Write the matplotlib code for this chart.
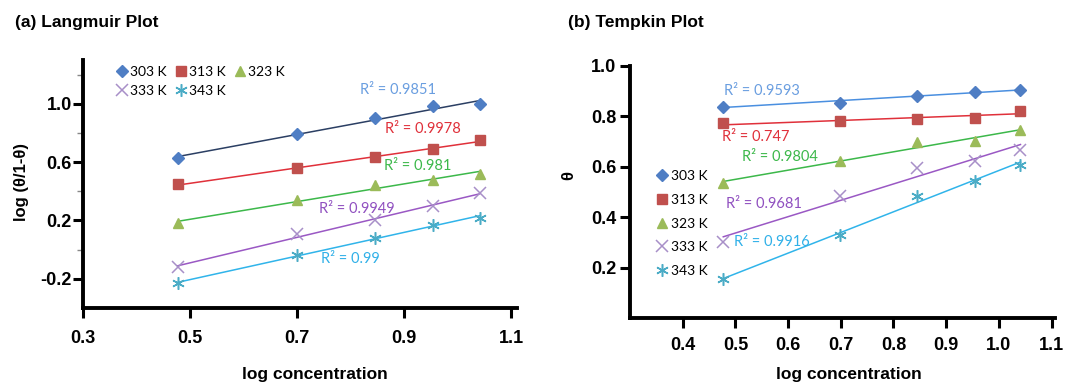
import numpy as np
import matplotlib
matplotlib.use("Agg")
import matplotlib.pyplot as plt
from matplotlib.ticker import FixedLocator, NullFormatter

# ---------------- data ----------------
log_conc = [0.477, 0.699, 0.845, 0.954, 1.041]
temps = ["303 K", "313 K", "323 K", "333 K", "343 K"]

langmuir_303 = [0.63, 0.79, 0.90, 0.985, 0.995]
langmuir_313 = [0.447, 0.557, 0.632, 0.69, 0.75]
langmuir_323 = [0.18, 0.34, 0.44, 0.48, 0.52]
langmuir_333 = [-0.12, 0.107, 0.20, 0.30, 0.386]
langmuir_343 = [-0.23, -0.04, 0.08, 0.17, 0.22]
langmuir_r2 = ["0.9851", "0.9978", "0.981", "0.9949", "0.99"]

tempkin_303 = [0.839, 0.855, 0.882, 0.898, 0.904]
tempkin_313 = [0.772, 0.780, 0.790, 0.795, 0.823]
tempkin_323 = [0.537, 0.622, 0.697, 0.702, 0.745]
tempkin_333 = [0.30, 0.485, 0.597, 0.622, 0.666]
tempkin_343 = [0.153, 0.33, 0.485, 0.545, 0.607]
tempkin_r2 = ["0.9593", "0.747", "0.9804", "0.9681", "0.9916"]

# ---------------- styles ----------------
marker_colors = ["#4f7ec4", "#c0504d", "#9bbb59", "#a88fc8", "#4bacc6"]
markers = ["D", "s", "^", "x", (6, 2, 0)]
msizes = [6, 7, 7.5, 8, 9]
line_colors_a = ["#2b3f63", "#e0303a", "#3cb84a", "#9a58c4", "#30b4ea"]
line_colors_b = ["#4a8fe0", "#e0303a", "#3cb84a", "#9a58c4", "#30b4ea"]
label_colors_a = ["#6a9ee0", "#e0303a", "#3cb84a", "#9050c0", "#30b0e8"]
label_colors_b = ["#6a9ee0", "#e0303a", "#3cb84a", "#9050c0", "#30b0e8"]

bold_font = "Liberation Sans"
small_font = "Lato"

fig = plt.figure(figsize=(10.8, 3.85), dpi=100)

def style_axes(ax):
    for s in ["top", "right"]:
        ax.spines[s].set_visible(False)
    for s in ["left", "bottom"]:
        ax.spines[s].set_linewidth(2.8)
    ax.tick_params(which="major", direction="out", length=7, width=2.2,
                   labelsize=13)
    ax.tick_params(which="minor", direction="out", length=4, width=1.0,
                   color="#888888")
    for lab in ax.get_xticklabels() + ax.get_yticklabels():
        lab.set_fontfamily(bold_font)
        lab.set_fontweight("bold")

def plot_series(ax, ys_list, line_colors):
    x = np.array(log_conc)
    handles = []
    for i, ys in enumerate(ys_list):
        m, b = np.polyfit(x, ys, 1)
        ax.plot(x, m * x + b, color=line_colors[i], lw=1.1, zorder=2)
        mk = markers[i]
        filled = mk not in ("x", (6, 2, 0))
        h, = ax.plot(x, ys, linestyle="none", marker=mk, ms=msizes[i],
                     color=marker_colors[i], mec=marker_colors[i],
                     mew=1.0 if filled else 1.1, label=temps[i], zorder=3)
        handles.append(h)
    return handles

# ---------------- (a) Langmuir ----------------
ax1 = fig.add_axes([83 / 1080, 1 - 308 / 385, (517 - 83) / 1080, (308 - 60) / 385])
h1 = plot_series(ax1, [langmuir_303, langmuir_313, langmuir_323, langmuir_333, langmuir_343],
                 line_colors_a)
ax1.set_xlim(0.3, 1.111)
ax1.set_ylim(-0.4, 1.3)
ax1.xaxis.set_major_locator(FixedLocator([0.3, 0.5, 0.7, 0.9, 1.1]))
ax1.yaxis.set_major_locator(FixedLocator([-0.2, 0.2, 0.6, 1.0]))
ax1.yaxis.set_minor_locator(FixedLocator([0.0, 0.4, 0.8, 1.2]))
ax1.yaxis.set_minor_formatter(NullFormatter())
ax1.set_xticklabels(["0.3", "0.5", "0.7", "0.9", "1.1"])
ax1.set_yticklabels(["-0.2", "0.2", "0.6", "1.0"])
style_axes(ax1)
ax1.tick_params(axis="x", pad=9)
ax1.tick_params(axis="y", pad=1)

r2_pos_a = [(0.889, 1.095), (0.935, 0.83), (0.926, 0.57), (0.812, 0.277), (0.799, -0.064)]
for (tx, ty), r2, c in zip(r2_pos_a, langmuir_r2, label_colors_a):
    ax1.text(tx, ty, "R² = " + r2, color=c, fontsize=10.5, family=small_font,
             ha="center", va="center", zorder=4)

order = [0, 3, 1, 4, 2]
leg1 = ax1.legend([h1[i] for i in order], [temps[i] for i in order],
                  loc="upper left", bbox_to_anchor=(0.045, 1.025), ncol=3,
                  frameon=False, handletextpad=0.1, columnspacing=0.5,
                  handlelength=1.0, labelspacing=0.45,
                  prop={"family": small_font, "size": 10})

fig.text(0.014, 1 - 22 / 385, "(a) Langmuir Plot", fontsize=12.5,
         fontweight="bold", family=bold_font, ha="left", va="center")
fig.text(315 / 1080, 1 - 379 / 385, "log concentration", fontsize=12.5,
         fontweight="bold", family=bold_font, ha="center", va="baseline")
fig.text(22 / 1080, 1 - 182 / 385, "log (θ/1-θ)", fontsize=12,
         fontweight="bold", family=bold_font, ha="center", va="center",
         rotation=90)

# ---------------- (b) Tempkin ----------------
ax2 = fig.add_axes([630 / 1080, 1 - 318 / 385, (1055 - 630) / 1080, (318 - 66) / 385])
h2 = plot_series(ax2, [tempkin_303, tempkin_313, tempkin_323, tempkin_333, tempkin_343],
                 line_colors_b)
ax2.set_xlim(0.3, 1.1065)
ax2.set_ylim(0.0, 1.0)
ax2.xaxis.set_major_locator(FixedLocator([0.4, 0.5, 0.6, 0.7, 0.8, 0.9, 1.0, 1.1]))
ax2.yaxis.set_major_locator(FixedLocator([0.2, 0.4, 0.6, 0.8, 1.0]))
ax2.set_xticklabels(["0.4", "0.5", "0.6", "0.7", "0.8", "0.9", "1.0", "1.1"])
ax2.set_yticklabels(["0.2", "0.4", "0.6", "0.8", "1.0"])
style_axes(ax2)
ax2.tick_params(axis="x", pad=7)
ax2.tick_params(axis="y", pad=3)

r2_pos_b = [(0.55, 0.902), (0.539, 0.72), (0.585, 0.638), (0.554, 0.452), (0.569, 0.303)]
for (tx, ty), r2, c in zip(r2_pos_b, tempkin_r2, label_colors_b):
    ax2.text(tx, ty, "R² = " + r2, color=c, fontsize=10.5, family=small_font,
             ha="center", va="center", zorder=4)

leg2 = ax2.legend(loc="center left", bbox_to_anchor=(0.03, 0.375), ncol=1,
                  frameon=False, handletextpad=0.1, handlelength=1.0,
                  labelspacing=0.85, prop={"family": small_font, "size": 10})

fig.text(568 / 1080, 1 - 22 / 385, "(b) Tempkin Plot", fontsize=12.5,
         fontweight="bold", family=bold_font, ha="left", va="center")
fig.text(849 / 1080, 1 - 379 / 385, "log concentration", fontsize=12.5,
         fontweight="bold", family=bold_font, ha="center", va="baseline")
fig.text(569 / 1080, 1 - 175 / 385, "θ", fontsize=12,
         fontweight="bold", family=bold_font, ha="center", va="center",
         rotation=90)

fig.savefig("out.png", dpi=100)
